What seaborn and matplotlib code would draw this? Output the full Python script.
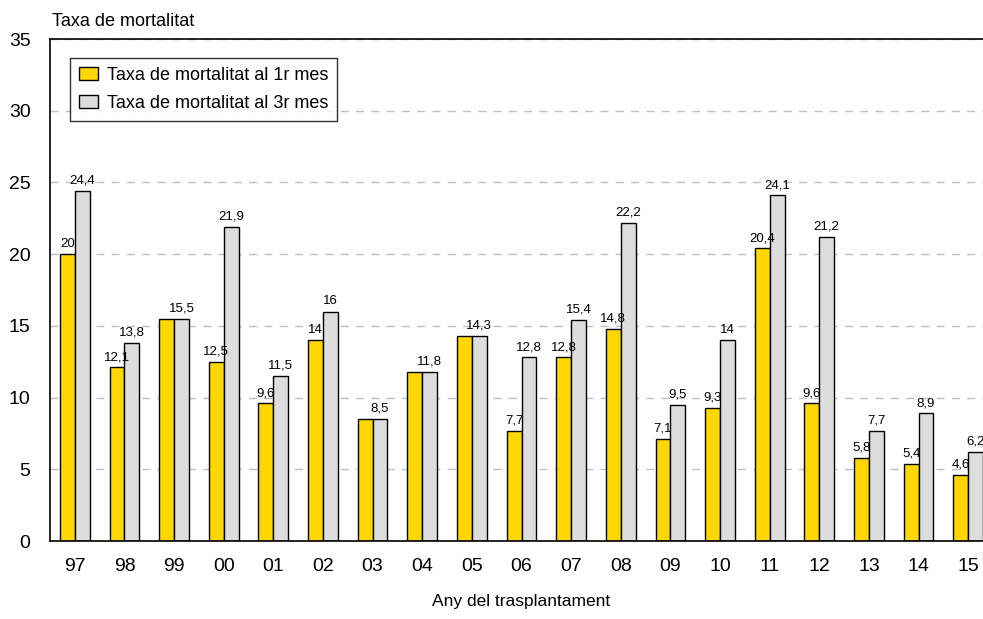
import matplotlib
matplotlib.use("Agg")
import matplotlib.pyplot as plt
import matplotlib.patches as mpatches
import pandas as pd
import seaborn as sns

years = ["97", "98", "99", "00", "01", "02", "03", "04", "05", "06",
         "07", "08", "09", "10", "11", "12", "13", "14", "15"]
mes1 = [20, 12.1, 15.5, 12.5, 9.6, 14, 8.5, 11.8, 14.3, 7.7,
        12.8, 14.8, 7.1, 9.3, 20.4, 9.6, 5.8, 5.4, 4.6]
mes3 = [24.4, 13.8, 15.5, 21.9, 11.5, 16, 8.5, 11.8, 14.3, 12.8,
        15.4, 22.2, 9.5, 14, 24.1, 21.2, 7.7, 8.9, 6.2]
series = ["Taxa de mortalitat al 1r mes", "Taxa de mortalitat al 3r mes"]
colors = ["#FFD700", "#DDDDDD"]

df = pd.DataFrame({
    "any": years * 2,
    "taxa": mes1 + mes3,
    "serie": [series[0]] * len(years) + [series[1]] * len(years),
})

sns.set_style("white")
plt.rcParams["font.family"] = ["Liberation Sans", "DejaVu Sans"]
plt.rcParams["text.color"] = "black"
plt.rcParams["xtick.color"] = "black"
plt.rcParams["ytick.color"] = "black"
plt.rcParams["axes.labelcolor"] = "black"

fig = plt.figure(figsize=(9.83, 6.19), dpi=100)
# right edge of the plot box lies past the picture, as in the original
ax = fig.add_axes([50 / 983, 78 / 619, 943 / 983, 502 / 619])

sns.barplot(data=df, x="any", y="taxa", hue="serie", order=years,
            hue_order=series, palette=dict(zip(series, colors)),
            saturation=1, width=0.6, gap=0, edgecolor="black", linewidth=1,
            legend=False, ax=ax)

ax.set_xlim(-0.5, len(years) - 0.5)
ax.set_ylim(0, 35)
ax.set_yticks(range(0, 36, 5))
ax.yaxis.grid(True, color="#C0C0C0", linestyle=(0, (5.8, 5.2)), linewidth=1)
ax.set_axisbelow(True)
for s in ax.spines.values():
    s.set_color("black")
    s.set_linewidth(1.2)
ax.tick_params(axis="both", length=0, labelsize=14)
ax.tick_params(axis="y", pad=14)
ax.tick_params(axis="x", pad=12)
ax.set_xlabel("Any del trasplantament", fontsize=12.5, labelpad=14)
ax.set_ylabel("")
fig.text(52 / 983, 1 - 26 / 619, "Taxa de mortalitat", fontsize=13)

def fmt(v):
    return f"{v:g}".replace(".", ",")

labels1 = [fmt(a) if a != b else "" for a, b in zip(mes1, mes3)]
labels3 = [fmt(b) for b in mes3]
ax.bar_label(ax.containers[0], labels=labels1, padding=3, fontsize=9.5)
ax.bar_label(ax.containers[1], labels=labels3, padding=3, fontsize=9.5)

handles = [mpatches.Patch(facecolor=c, edgecolor="black", linewidth=1)
           for c in colors]
leg = ax.legend(handles, series, loc="upper left",
                bbox_to_anchor=(20 / 943, 1 - 19 / 502), borderaxespad=0,
                fontsize=13, frameon=True, fancybox=False,
                handlelength=1.05, handleheight=0.7, handletextpad=0.5,
                labelspacing=0.6, borderpad=0.5)
leg.get_frame().set_edgecolor("black")
leg.get_frame().set_linewidth(1)

fig.savefig("out.png", dpi=100)
